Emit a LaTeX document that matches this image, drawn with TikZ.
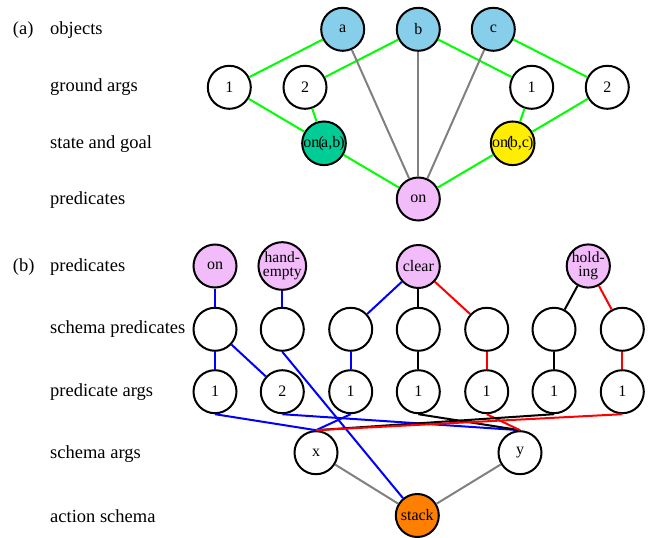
\documentclass[tikz,border=0pt]{standalone}
\usepackage{fontspec}
\setmainfont{Liberation Serif}
\definecolor{objblue}{RGB}{135,206,235}
\definecolor{tealg}{RGB}{0,204,150}
\definecolor{yelw}{RGB}{255,238,0}
\definecolor{pinkp}{RGB}{242,187,250}
\definecolor{orng}{RGB}{255,128,0}
\definecolor{limeg}{RGB}{0,255,0}
\definecolor{grayl}{RGB}{128,128,128}
\newcommand{\nodefnt}{\fontsize{16}{13}\selectfont}
\newcommand{\twofnt}{\fontsize{15.5}{14}\selectfont}
\newcommand{\lblfnt}{\fontsize{18.5}{20}\selectfont}
\begin{document}
\begin{tikzpicture}[x=1pt,y=-1pt,
  vert/.style={circle,draw,line width=2pt,minimum size=43pt,inner sep=0pt,font=\nodefnt,align=center},
  twoline/.style={font=\twofnt},
  lbl/.style={anchor=west,inner sep=0pt,font=\lblfnt,text height=0.7em,text depth=0.2em},
  ge/.style={draw=limeg,line width=2pt},
  gr/.style={draw=grayl,line width=2pt},
  be/.style={draw=blue,line width=2pt},
  re/.style={draw=red,line width=2pt},
  ke/.style={draw=black,line width=2pt}]
\useasboundingbox (0,0) rectangle (657,538);
% labels
\node[lbl] (la) at (12.7,32) {(a)};
\node[lbl] (l1) at (50,32) {objects};
\node[lbl] (l2) at (50,89) {ground args};
\node[lbl] (l3) at (50,145.5) {state and goal};
\node[lbl] (l4) at (50,202) {predicates};
\node[lbl] (lb) at (12.7,269) {(b)};
\node[lbl] (l5) at (50,269) {predicates};
\node[lbl] (l6) at (50,331) {schema predicates};
\node[lbl] (l7) at (50,394) {predicate args};
\node[lbl] (l8) at (50,456) {schema args};
\node[lbl] (l9) at (50,520) {action schema};
% (a) nodes
\node[vert,fill=objblue] (a) at (342.7,29.3) {a};
\node[vert,fill=objblue] (b) at (418.3,29.3) {b};
\node[vert,fill=objblue] (c) at (493.3,29.3) {c};
\node[vert] (g1) at (229.3,87.3) {1};
\node[vert] (g2) at (305,87.3) {2};
\node[vert] (g3) at (531.7,87.3) {1};
\node[vert] (g4) at (607.3,87.3) {2};
\node[vert,fill=tealg] (sab) at (324,143.3) {on\kern-1pt(\kern-2.5pt a,b\kern-1pt)};
\node[vert,fill=yelw] (sbc) at (512.7,143.3) {on\kern-1pt(\kern-2.5pt b,c\kern-1pt)};
\node[vert,fill=pinkp] (on) at (418.3,199) {on};
% (b) nodes
\node[vert,fill=pinkp] (p1) at (215,266) {on};
\node[vert,twoline,fill=pinkp] (p2) at (282.3,266) {hand-\\empty};
\node[vert,fill=pinkp] (p3) at (418.3,266.5) {clear};
\node[vert,twoline,fill=pinkp] (p4) at (588.3,266) {hold-\\ing};
\foreach \i/\xx in {1/215,2/282.3,3/350.7,4/418.3,5/486.7,6/554,7/622.3}{
  \node[vert] (s\i) at (\xx,329.3) {};
}
\node[vert] (r1) at (215,391.7) {1};
\node[vert] (r2) at (282.3,391.7) {2};
\node[vert] (r3) at (350.7,391.7) {1};
\node[vert] (r4) at (418.3,391.7) {1};
\node[vert] (r5) at (486.7,391.7) {1};
\node[vert] (r6) at (554,391.7) {1};
\node[vert] (r7) at (622.3,391.7) {1};
\node[vert] (x) at (316,452.7) {x};
\node[vert] (y) at (520,452.7) {y};
\node[vert,fill=orng] (stack) at (417.3,515.5) {stack};
% (a) edges
\draw[ge] (a) -- (g1);
\draw[ge] (b) -- (g2);
\draw[ge] (b) -- (g3);
\draw[ge] (c) -- (g4);
\draw[ge] (g1) -- (sab);
\draw[ge] (g2) -- (sab);
\draw[ge] (g3) -- (sbc);
\draw[ge] (g4) -- (sbc);
\draw[ge] (sab) -- (on);
\draw[ge] (sbc) -- (on);
\draw[gr] (a) -- (on);
\draw[gr] (b) -- (on);
\draw[gr] (c) -- (on);
% (b) edges
\draw[be] (p1) -- (s1);
\draw[be] (p2) -- (s2);
\draw[be] (p3) -- (s3);
\draw[ke] (p3) -- (s4);
\draw[re] (p3) -- (s5);
\draw[ke] (p4) -- (s6);
\draw[re] (p4) -- (s7);
\draw[be] (s1) -- (r1);
\draw[be] (s1) -- (r2);
\draw[be] (s2.south) -- (stack);
\draw[be] (s3) -- (r3);
\draw[ke] (s4) -- (r4);
\draw[re] (s5) -- (r5);
\draw[ke] (s6) -- (r6);
\draw[re] (s7) -- (r7);
\draw[be] (r1.south) -- (x.north);
\draw[be] (r2.south) -- (y.north);
\draw[be] (r3.south) -- (x.north);
\draw[ke] (r4.south) -- (y.north);
\draw[re] (r5.south) -- (y.north);
\draw[ke] (r6.south) -- (x.north);
\draw[re] (r7.south) -- (x.north);
\draw[gr] (x) -- (stack);
\draw[gr] (y) -- (stack);
\end{tikzpicture}
\end{document}
